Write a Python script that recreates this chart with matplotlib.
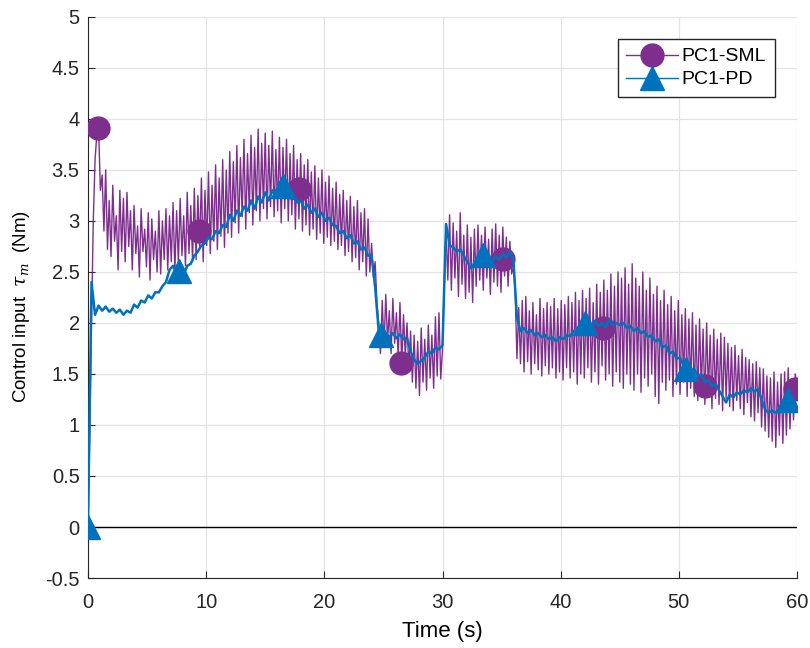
import numpy as np
import matplotlib
matplotlib.use("Agg")
import matplotlib.pyplot as plt
from matplotlib.lines import Line2D
from matplotlib.ticker import FuncFormatter

sml_dt = 0.15
sml_values = [
    0.0, 0.9, 2.0, 3.0, 3.6, 3.85, 3.91, 3.3, 3.45, 2.9, 3.5, 2.72, 3.2, 2.65, 3.35, 2.8, 3.05, 2.52, 3.3, 2.7,
    3.22, 2.6, 3.28, 2.75, 3.1, 2.52, 3.15, 2.68, 2.95, 2.45, 3.12, 2.7, 2.92, 2.55, 3.08, 2.42, 3.02, 2.62, 2.9, 2.5,
    3.1, 2.48, 3.0, 2.62, 3.12, 2.52, 3.05, 2.6, 3.18, 2.5, 3.1, 2.58, 3.22, 2.66, 3.05, 2.56, 3.28, 2.68, 3.15, 2.6,
    3.32, 2.62, 3.25, 2.74, 3.42, 2.6, 3.3, 2.76, 3.48, 2.68, 3.35, 2.8, 3.55, 2.72, 3.42, 2.85, 3.6, 2.74, 3.5, 2.88,
    3.68, 2.84, 3.58, 2.98, 3.74, 2.88, 3.62, 3.04, 3.8, 2.92, 3.66, 3.08, 3.84, 2.96, 3.72, 3.1, 3.9, 3.0, 3.76, 3.12,
    3.86, 3.02, 3.74, 3.14, 3.88, 3.04, 3.7, 3.1, 3.82, 2.98, 3.72, 3.12, 3.8, 3.0, 3.66, 3.06, 3.74, 2.92, 3.6, 3.02,
    3.66, 2.9, 3.55, 2.96, 3.6, 2.86, 3.48, 2.92, 3.54, 2.82, 3.42, 2.88, 3.5, 2.78, 3.38, 2.84, 3.44, 2.76, 3.32, 2.8,
    3.38, 2.72, 3.26, 2.76, 3.3, 2.66, 3.2, 2.7, 3.24, 2.6, 3.14, 2.64, 3.2, 2.52, 3.08, 2.6, 3.12, 2.46, 3.02, 2.5,
    2.78, 2.45, 2.6, 2.2, 2.0, 1.7, 2.22, 1.76, 2.28, 1.82, 2.12, 1.7, 2.24, 1.8, 2.1, 1.66, 2.2, 1.6, 2.08, 1.68,
    2.0, 1.55, 1.92, 1.42, 1.88, 1.36, 1.82, 1.29, 1.95, 1.42, 1.84, 1.34, 1.98, 1.46, 1.88, 1.36, 2.06, 1.48, 2.1, 1.45,
    1.75, 2.4, 2.92, 2.42, 3.06, 2.32, 2.98, 2.44, 2.9, 2.26, 3.08, 2.38, 2.86, 2.24, 2.96, 2.3, 2.84, 2.2, 2.92, 2.36,
    2.96, 2.42, 2.86, 2.32, 2.94, 2.44, 2.82, 2.28, 2.92, 2.4, 2.97, 2.36, 2.86, 2.3, 2.94, 2.46, 2.84, 2.36, 2.8, 2.48,
    2.55, 2.3, 1.65, 2.15, 1.6, 2.22, 1.52, 2.26, 1.62, 2.12, 1.5, 2.2, 1.6, 2.08, 1.54, 2.24, 1.48, 2.14, 1.58, 2.2,
    1.5, 2.16, 1.56, 2.24, 1.46, 2.14, 1.52, 2.22, 1.44, 2.18, 1.56, 2.26, 1.46, 2.2, 1.52, 2.3, 1.4, 2.22, 1.5, 2.32,
    1.46, 2.24, 1.56, 2.34, 1.42, 2.2, 1.52, 2.38, 1.4, 2.3, 1.58, 2.42, 1.44, 2.32, 1.5, 2.48, 1.38, 2.36, 1.52, 2.5,
    1.42, 2.44, 1.36, 2.54, 1.5, 2.38, 1.4, 2.58, 1.34, 2.44, 1.5, 2.36, 1.32, 2.5, 1.46, 2.32, 1.38, 2.44, 1.5, 2.28,
    1.28, 2.36, 1.21, 2.22, 1.42, 2.32, 1.34, 2.18, 1.44, 2.26, 1.28, 2.12, 1.4, 2.22, 1.3, 2.08, 1.42, 2.14, 1.28, 2.04,
    1.36, 2.1, 1.28, 1.98, 1.24, 2.04, 1.34, 1.94, 1.2, 2.0, 1.3, 1.88, 1.16, 1.94, 1.26, 1.84, 1.2, 1.9, 1.14, 1.86,
    1.26, 1.8, 1.18, 1.76, 1.14, 1.78, 1.24, 1.68, 1.16, 1.74, 1.1, 1.66, 1.22, 1.64, 1.08, 1.6, 1.04, 1.62, 1.12, 1.56,
    0.98, 1.55, 0.94, 1.48, 0.88, 1.46, 0.84, 1.52, 0.78, 1.42, 0.9, 1.5, 0.82, 1.52, 0.9, 1.56, 0.96, 1.44, 1.05, 1.5,
    1.35,
]

# PC1-PD control input, sampled every 0.3 s
pd_dt = 0.3
pd_values = [
    0.0, 2.4, 2.08, 2.17, 2.12, 2.16, 2.11, 2.14, 2.1, 2.13,
    2.08, 2.12, 2.1, 2.18, 2.15, 2.22, 2.2, 2.27, 2.24, 2.3,
    2.3, 2.36, 2.4, 2.52, 2.56, 2.48, 2.5, 2.47, 2.56, 2.58,
    2.66, 2.7, 2.76, 2.78, 2.84, 2.82, 2.9, 2.88, 2.96, 2.94,
    3.06, 3.0, 3.1, 3.05, 3.14, 3.1, 3.2, 3.12, 3.24, 3.18,
    3.28, 3.2, 3.3, 3.24, 3.36, 3.3, 3.34, 3.22, 3.26, 3.18,
    3.2, 3.12, 3.16, 3.08, 3.12, 3.04, 3.08, 3.0, 3.03, 2.96,
    2.95, 2.88, 2.9, 2.83, 2.86, 2.78, 2.8, 2.72, 2.74, 2.66,
    2.66, 2.35, 1.92, 1.88, 1.9, 1.86, 1.9, 1.85, 1.89, 1.84,
    1.85, 1.72, 1.64, 1.6, 1.63, 1.66, 1.72, 1.7, 1.76, 1.74,
    1.78, 2.97, 2.76, 2.74, 2.7, 2.72, 2.66, 2.6, 2.54, 2.56,
    2.6, 2.64, 2.62, 2.66, 2.6, 2.65, 2.62, 2.68, 2.64, 2.7,
    2.62, 2.05, 1.92, 1.95, 1.9, 1.93, 1.88, 1.9, 1.86, 1.88,
    1.84, 1.86, 1.82, 1.86, 1.84, 1.88, 1.87, 1.92, 1.9, 1.96,
    1.95, 2.0, 1.96, 2.02, 1.97, 2.0, 1.96, 2.03, 1.98, 2.0,
    1.98, 2.0, 1.95, 1.97, 1.92, 1.95, 1.9, 1.92, 1.86, 1.88,
    1.82, 1.84, 1.76, 1.78, 1.7, 1.72, 1.65, 1.66, 1.58, 1.6,
    1.52, 1.55, 1.48, 1.5, 1.42, 1.44, 1.38, 1.4, 1.34, 1.28,
    1.22, 1.3, 1.27, 1.32, 1.3, 1.34, 1.32, 1.36, 1.33, 1.35,
    1.25, 1.15, 1.12, 1.14, 1.12, 1.15, 1.2, 1.25, 1.24, 1.22,
    1.2,
]

# marker positions along each curve
sml_marker_t = [0.85, 9.4, 17.85, 26.5, 35.1, 43.6, 52.2, 59.85]
sml_marker_v = [3.91, 2.9, 3.31, 1.61, 2.63, 1.95, 1.38, 1.35]
pd_marker_t = [0.0, 7.7, 16.5, 24.8, 33.4, 42.1, 50.6, 59.2]
pd_marker_v = [0.0, 2.51, 3.34, 1.88, 2.67, 2.0, 1.55, 1.24]

purple = '#7E2F8E'
blue = '#0072BD'

plt.rcParams['font.family'] = ['Liberation Sans', 'DejaVu Sans']
plt.rcParams['mathtext.fontset'] = 'dejavuserif'

fig = plt.figure(figsize=(8.1, 6.48), dpi=100)
ax = fig.add_axes([0.1086, 0.108, 0.8754, 0.866])

sml_t = np.arange(len(sml_values)) * sml_dt
pd_t = np.arange(len(pd_values)) * pd_dt

ax.axhline(0, color='k', lw=1.0, zorder=1)
ax.plot(sml_t, sml_values, color=purple, lw=1.0, zorder=2)
ax.plot(sml_marker_t, sml_marker_v, 'o', color=purple, ms=16.5, zorder=3)
ax.plot(pd_t, pd_values, color=blue, lw=1.8, zorder=4)
ax.plot(pd_marker_t, pd_marker_v, '^', color=blue, ms=17, zorder=5)

ax.set_xlim(0, 60)
ax.set_ylim(-0.5, 5)
ax.set_xticks(np.arange(0, 61, 10))
ax.set_yticks(np.arange(-0.5, 5.01, 0.5))
ax.yaxis.set_major_formatter(FuncFormatter(lambda v, p: '%g' % round(v, 2)))
ax.tick_params(direction='in', length=5, labelsize=14.5, colors='#262626')
ax.tick_params(axis='y', pad=6)
ax.tick_params(axis='x', pad=11)
ax.grid(True, color='#e3e3e3', lw=0.9)
ax.set_axisbelow(True)
for side in ('top', 'right'):
    ax.spines[side].set_visible(False)
for side in ('left', 'bottom'):
    ax.spines[side].set_color('#262626')

ax.set_xlabel('Time (s)', fontsize=16, labelpad=6)
ax.set_ylabel(r'Control input  $\tau_m$  (Nm)', fontsize=13.5)
ax.yaxis.set_label_coords(-0.079, 0.483)

handles = [
    Line2D([], [], color=purple, lw=1.0, marker='o', ms=16.5),
    Line2D([], [], color=blue, lw=1.0, marker='^', ms=17),
]
ax.legend(handles, ['PC1-SML', 'PC1-PD'], loc='upper right',
          bbox_to_anchor=(775 / 810, 1 - 39 / 648), bbox_transform=fig.transFigure,
          fontsize=14, fancybox=False, edgecolor='#262626', framealpha=1,
          handlelength=2.65, handletextpad=0.2, borderaxespad=0,
          labelspacing=0.28, borderpad=0.45)

fig.savefig('out.png', dpi=100)
